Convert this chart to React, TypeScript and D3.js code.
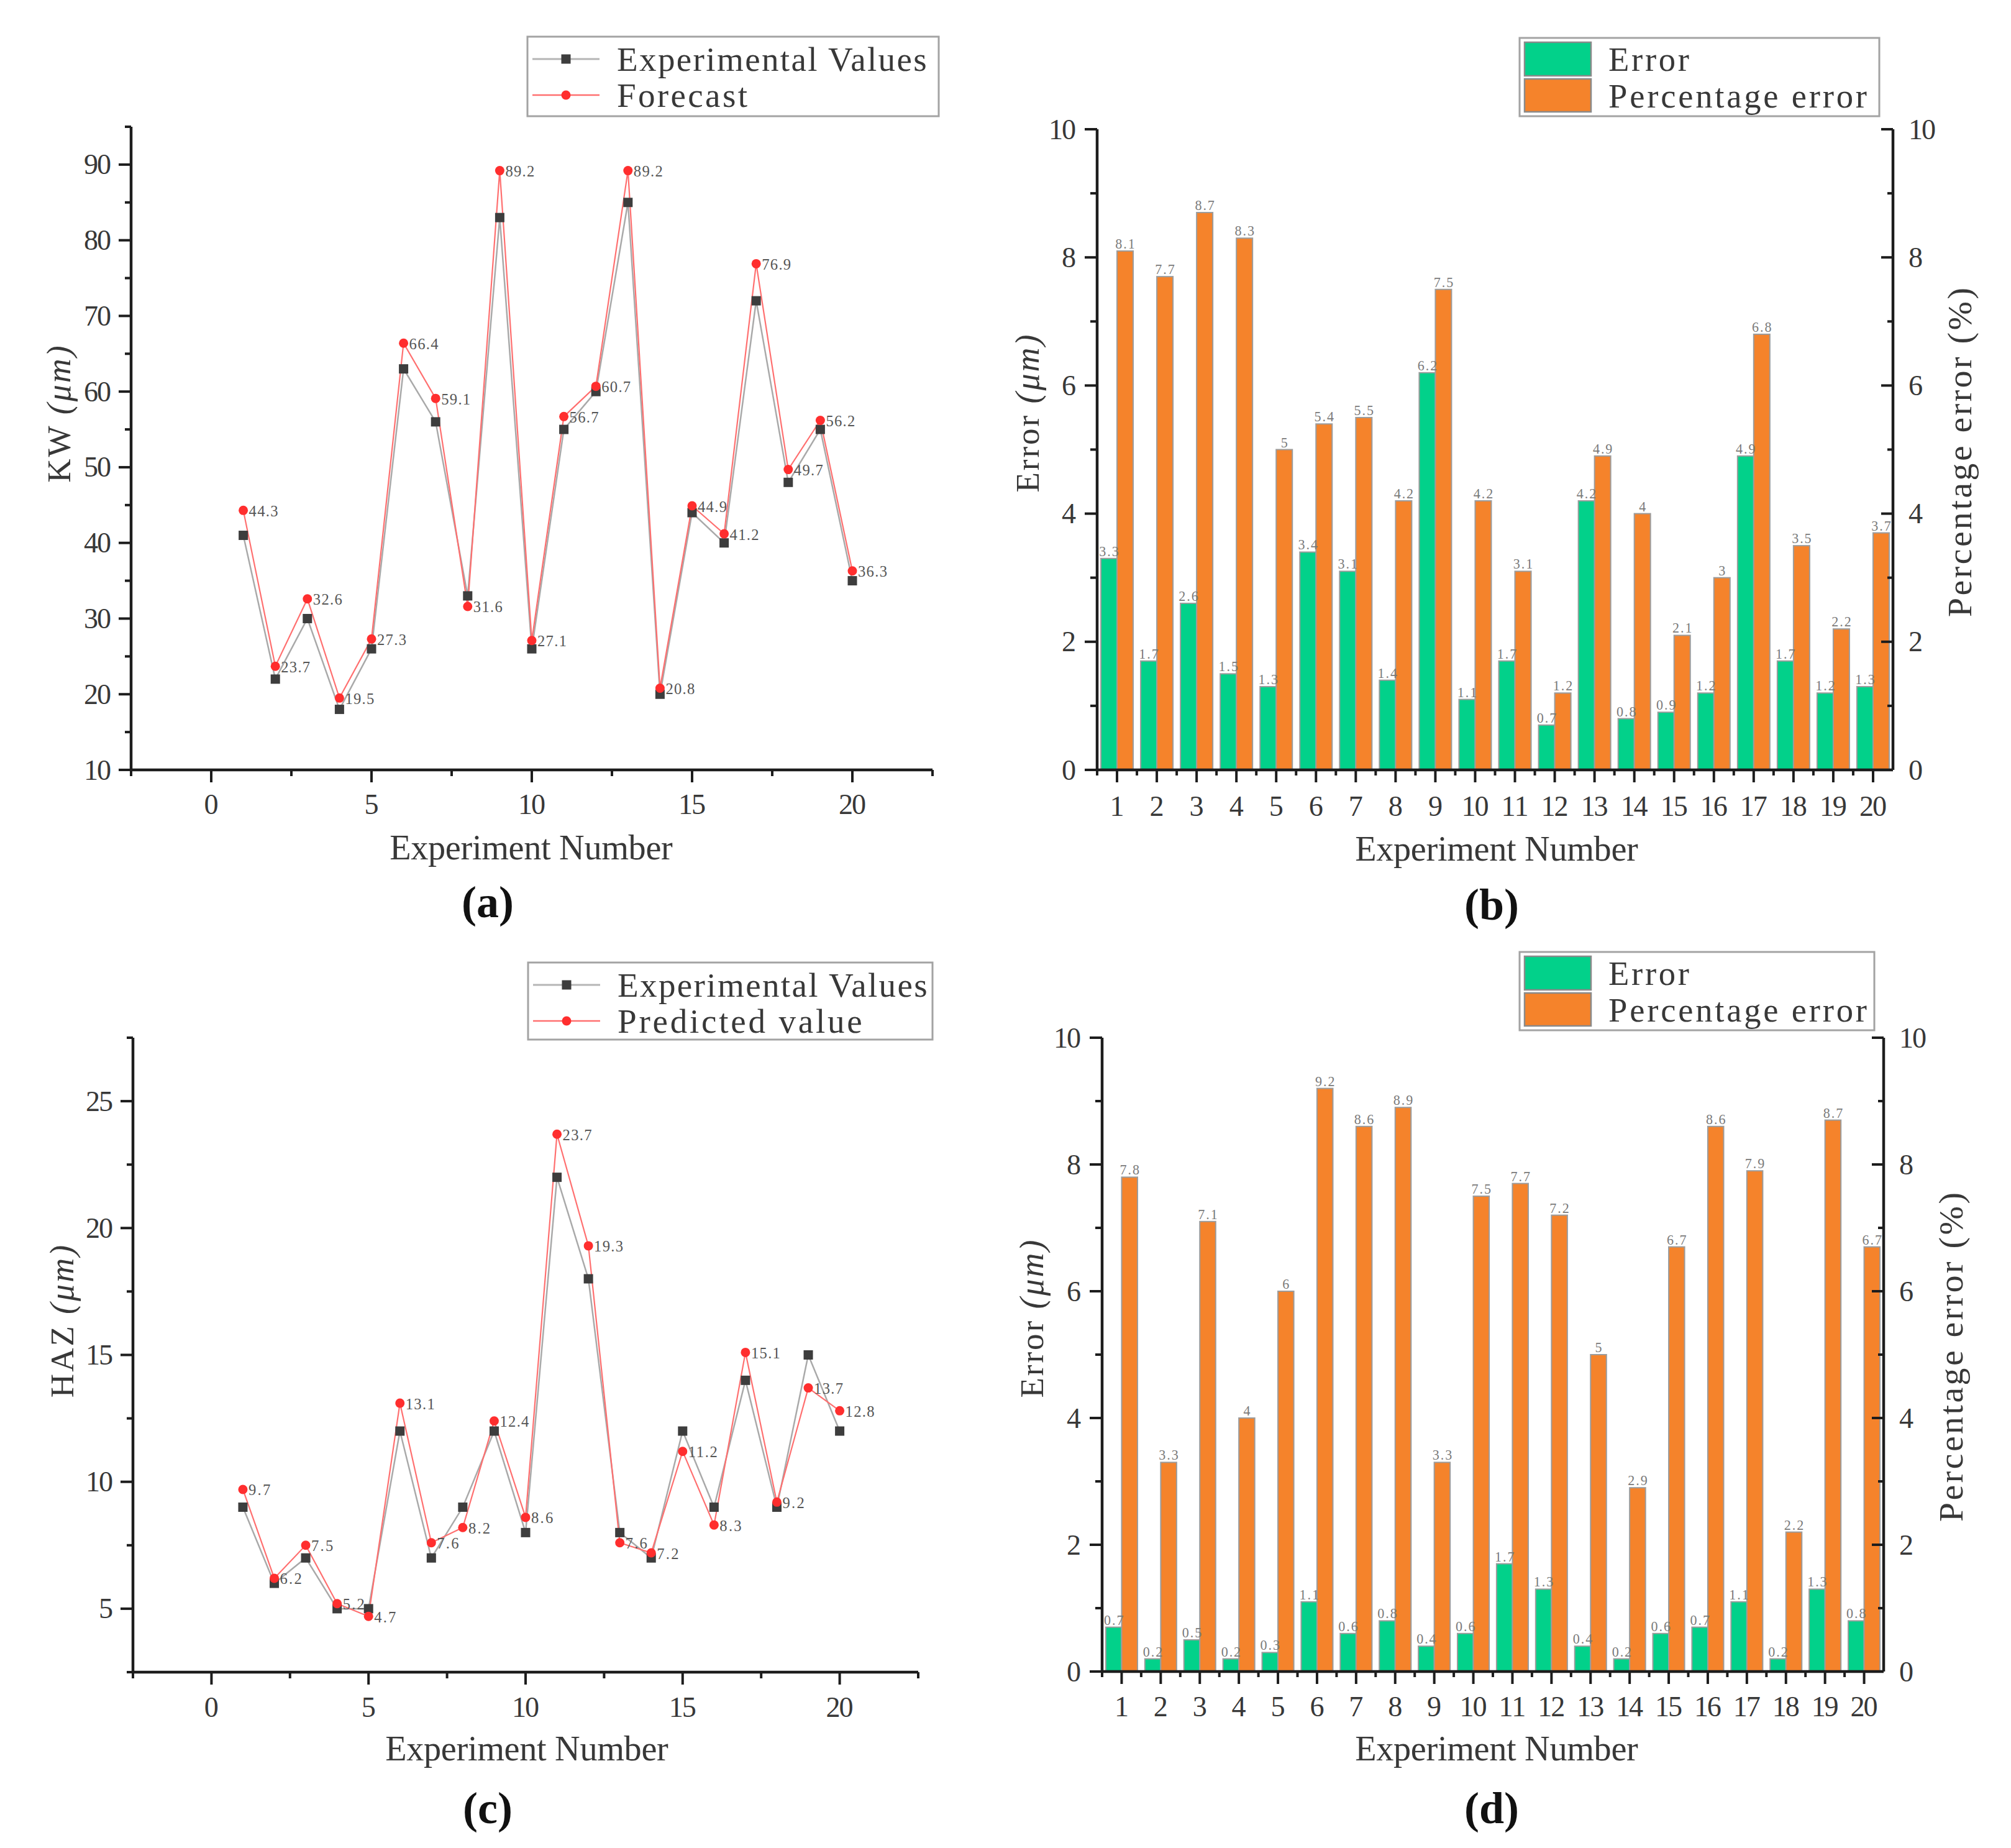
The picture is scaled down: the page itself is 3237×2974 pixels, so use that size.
import * as d3 from "d3";

// ---- data ----
const experiments = [1, 2, 3, 4, 5, 6, 7, 8, 9, 10, 11, 12, 13, 14, 15, 16, 17, 18, 19, 20];

const kwExperimental = [41, 22, 30, 18, 26, 63, 56, 33, 83, 26, 55, 60, 85, 20, 44, 40, 72, 48, 55, 35];
const kwForecast = [44.3, 23.7, 32.6, 19.5, 27.3, 66.4, 59.1, 31.6, 89.2, 27.1, 56.7, 60.7, 89.2, 20.8, 44.9, 41.2, 76.9, 49.7, 56.2, 36.3];

const hazExperimental = [9, 6, 7, 5, 5, 12, 7, 9, 12, 8, 22, 18, 8, 7, 12, 9, 14, 9, 15, 12];
const hazPredicted = [9.7, 6.2, 7.5, 5.2, 4.7, 13.1, 7.6, 8.2, 12.4, 8.6, 23.7, 19.3, 7.6, 7.2, 11.2, 8.3, 15.1, 9.2, 13.7, 12.8];

const kwError = [3.3, 1.7, 2.6, 1.5, 1.3, 3.4, 3.1, 1.4, 6.2, 1.1, 1.7, 0.7, 4.2, 0.8, 0.9, 1.2, 4.9, 1.7, 1.2, 1.3];
const kwPercentError = [8.1, 7.7, 8.7, 8.3, 5, 5.4, 5.5, 4.2, 7.5, 4.2, 3.1, 1.2, 4.9, 4, 2.1, 3, 6.8, 3.5, 2.2, 3.7];

const hazError = [0.7, 0.2, 0.5, 0.2, 0.3, 1.1, 0.6, 0.8, 0.4, 0.6, 1.7, 1.3, 0.4, 0.2, 0.6, 0.7, 1.1, 0.2, 1.3, 0.8];
const hazPercentError = [7.8, 3.3, 7.1, 4, 6, 9.2, 8.6, 8.9, 3.3, 7.5, 7.7, 7.2, 5, 2.9, 6.7, 8.6, 7.9, 2.2, 8.7, 6.7];

const lineXTicks = [0, 5, 10, 15, 20];
const kwYTicks = [10, 20, 30, 40, 50, 60, 70, 80, 90];
const hazYTicks = [5, 10, 15, 20, 25];
const errorTicks = [0, 2, 4, 6, 8, 10];

// ---- style ----
const W = 3237;
const H = 2974;
const FONT_SERIF = "'Liberation Serif', 'DejaVu Serif', serif";
const INK = "#383838";
const AXIS = "#1d1d1d";
const GREEN = "#02d18a";
const ORANGE = "#f5832b";

// SimSun-like text: serif glyphs on a half-width pitch
function Txt({ x, y, s, anchor = "start", rotate = 0, fill = INK, baseline = "central", children }: any) {
  const str = String(children);
  return (
    <text
      transform={`translate(${x},${y}) rotate(${rotate})`}
      fontFamily={FONT_SERIF}
      fontSize={s * 1.05}
      textAnchor={anchor}
      dominantBaseline={baseline}
      fill={fill}
      textLength={str.length * 0.5 * s}
      lengthAdjust="spacing"
    >
      {str}
    </text>
  );
}

function UnitTitle({ x, y, label, unit }: any) {
  return (
    <text
      transform={`translate(${x},${y}) rotate(-90)`}
      fontFamily={FONT_SERIF}
      fontSize={53}
      textAnchor="middle"
      dominantBaseline="central"
      fill={INK}
      letterSpacing={3}
    >
      {label}
      <tspan fontStyle="italic" fontSize={54}>{unit}</tspan>
    </text>
  );
}

function PanelTag({ x, y, tag }: any) {
  return (
    <text x={x} y={y} fontFamily={FONT_SERIF} fontWeight="bold" fontSize={72} textAnchor="middle" dominantBaseline="central" fill="#111">
      {tag}
    </text>
  );
}

interface LinePanelProps {
  left: number; right: number; top: number; bottom: number;
  yDomain: [number, number];
  yTicks: number[];
  yMinor: number[];
  experimental: number[];
  predicted: number[];
  legend: { x: number; y: number; w: number; h: number; labels: string[] };
  yTitle: [number, number, string];
  tickLabelY: number;
  xTitle: [number, number];
  tag: [number, number, string];
}

function LinePanel(p: LinePanelProps) {
  const x = d3.scaleLinear().domain([-2.5, 22.5]).range([p.left, p.right]);
  const y = d3.scaleLinear().domain(p.yDomain).range([p.bottom, p.top]);
  const line = d3.line<number>().x((_, i) => x(experiments[i])).y((d) => y(d));
  const xMinor = d3.range(-2.5, 23, 5);
  const lg = p.legend;
  const rows = [lg.y + 36, lg.y + 94];

  return (
    <g>
      {/* series */}
      <path d={line(p.experimental) ?? ""} fill="none" stroke="#a9a9a9" strokeWidth={2.5} />
      <path d={line(p.predicted) ?? ""} fill="none" stroke="#ff6f6f" strokeWidth={2.2} />
      {p.experimental.map((v, i) => (
        <rect key={`s${i}`} x={x(experiments[i]) - 7.5} y={y(v) - 7.5} width={15} height={15} fill="#3d3d3d" />
      ))}
      {p.predicted.map((v, i) => (
        <circle key={`c${i}`} cx={x(experiments[i])} cy={y(v)} r={7.5} fill="#ff2e2e" />
      ))}
      {p.predicted.map((v, i) => (
        <Txt key={`l${i}`} x={x(experiments[i]) + 9} y={y(v) + 1} s={23.5} fill="#555">{v}</Txt>
      ))}

      {/* axes */}
      <line x1={p.left} x2={p.left} y1={p.bottom} y2={p.top} stroke={AXIS} strokeWidth={4.5} />
      <line x1={p.left} x2={p.right} y1={p.bottom} y2={p.bottom} stroke={AXIS} strokeWidth={4.5} />
      {p.yTicks.map((t) => (
        <g key={`yt${t}`}>
          <line x1={p.left - 20} x2={p.left} y1={y(t)} y2={y(t)} stroke={AXIS} strokeWidth={4} />
          <Txt x={p.left - 32} y={y(t)} s={44} anchor="end">{t}</Txt>
        </g>
      ))}
      {p.yMinor.map((t) => (
        <line key={`ym${t}`} x1={p.left - 10} x2={p.left} y1={y(t)} y2={y(t)} stroke={AXIS} strokeWidth={4} />
      ))}
      {lineXTicks.map((t) => (
        <g key={`xt${t}`}>
          <line x1={x(t)} x2={x(t)} y1={p.bottom} y2={p.bottom + 20} stroke={AXIS} strokeWidth={4} />
          <Txt x={x(t)} y={p.tickLabelY} s={44} anchor="middle">{t}</Txt>
        </g>
      ))}
      {xMinor.map((t) => (
        <line key={`xm${t}`} x1={x(t)} x2={x(t)} y1={p.bottom} y2={p.bottom + 10} stroke={AXIS} strokeWidth={4} />
      ))}

      {/* titles */}
      <UnitTitle x={p.yTitle[0]} y={p.yTitle[1]} label={p.yTitle[2]} unit="(μm)" />
      <Txt x={p.xTitle[0]} y={p.xTitle[1]} s={53.6} anchor="middle">Experiment Number</Txt>
      <PanelTag x={p.tag[0]} y={p.tag[1]} tag={p.tag[2]} />

      {/* legend */}
      <rect x={lg.x} y={lg.y} width={lg.w} height={lg.h} fill="#fff" stroke="#a3a3a3" strokeWidth={3} />
      <line x1={lg.x + 8} x2={lg.x + 116} y1={rows[0]} y2={rows[0]} stroke="#b5b5b5" strokeWidth={3} />
      <rect x={lg.x + 62 - 7.5} y={rows[0] - 7.5} width={15} height={15} fill="#3d3d3d" />
      <line x1={lg.x + 8} x2={lg.x + 116} y1={rows[1]} y2={rows[1]} stroke="#ff6f6f" strokeWidth={2.5} />
      <circle cx={lg.x + 62} cy={rows[1]} r={7.5} fill="#ff2e2e" />
      <Txt x={lg.x + 144} y={rows[0]} s={52.5}>{lg.labels[0]}</Txt>
      <Txt x={lg.x + 144} y={rows[1]} s={52.5}>{lg.labels[1]}</Txt>
    </g>
  );
}

interface BarPanelProps {
  left: number; right: number; top: number; bottom: number;
  error: number[];
  percent: number[];
  legend: { x: number; y: number; w: number; h: number };
  tickLabelY: number;
  leftTitle: [number, number];
  rightTitle: [number, number];
  xTitle: [number, number];
  tag: [number, number, string];
}

function BarPanel(p: BarPanelProps) {
  const x = d3.scaleBand<number>().domain(experiments).range([p.left, p.right]).padding(0);
  const bw = x.bandwidth();
  const inner = d3.scaleBand<string>().domain(["error", "percent"]).range([bw * 0.094, bw * 0.906]).padding(0);
  const y = d3.scaleLinear().domain([0, 10]).range([p.bottom, p.top]);
  const yRight = d3.scaleLinear().domain([0, 10]).range([p.bottom, p.top]);
  const minor = d3.range(1, 10, 2);
  const lg = p.legend;
  const series = [
    { key: "error", values: p.error, color: GREEN, scale: y },
    { key: "percent", values: p.percent, color: ORANGE, scale: yRight },
  ];
  const bars = series.flatMap((s) =>
    s.values.map((v, i) => ({
      key: `${s.key}${i}`,
      v,
      color: s.color,
      bx: (x(experiments[i]) ?? 0) + (inner(s.key) ?? 0),
      top: s.scale(v),
    }))
  );

  return (
    <g>
      {bars.map((b) => (
        <rect key={b.key} x={b.bx} y={b.top} width={inner.bandwidth()} height={p.bottom - b.top} fill={b.color} stroke="#9c9c9c" strokeWidth={2} />
      ))}
      {bars.map((b) => (
        <Txt key={`t${b.key}`} x={b.bx + inner.bandwidth() / 2} y={b.top - 4} s={21} anchor="middle" fill="#7a7a7a" baseline="auto">
          {b.v}
        </Txt>
      ))}

      {/* axes */}
      <line x1={p.left} x2={p.left} y1={p.bottom} y2={p.top} stroke={AXIS} strokeWidth={4.5} />
      <line x1={p.right} x2={p.right} y1={p.bottom} y2={p.top} stroke={AXIS} strokeWidth={4.5} />
      <line x1={p.left} x2={p.right} y1={p.bottom} y2={p.bottom} stroke={AXIS} strokeWidth={4.5} />
      {errorTicks.map((t) => (
        <g key={`t${t}`}>
          <line x1={p.left - 20} x2={p.left} y1={y(t)} y2={y(t)} stroke={AXIS} strokeWidth={4} />
          <Txt x={p.left - 34} y={y(t)} s={44} anchor="end">{t}</Txt>
          <line x1={p.right - 19} x2={p.right} y1={yRight(t)} y2={yRight(t)} stroke={AXIS} strokeWidth={4} />
          <Txt x={p.right + 25} y={yRight(t)} s={44}>{t}</Txt>
        </g>
      ))}
      {minor.map((t) => (
        <g key={`m${t}`}>
          <line x1={p.left - 11} x2={p.left} y1={y(t)} y2={y(t)} stroke={AXIS} strokeWidth={4} />
          <line x1={p.right - 9} x2={p.right} y1={yRight(t)} y2={yRight(t)} stroke={AXIS} strokeWidth={4} />
        </g>
      ))}
      {experiments.map((e) => {
        const cx = (x(e) ?? 0) + bw / 2;
        return (
          <g key={`x${e}`}>
            <line x1={cx} x2={cx} y1={p.bottom} y2={p.bottom + 20} stroke={AXIS} strokeWidth={4} />
            <line x1={x(e) ?? 0} x2={x(e) ?? 0} y1={p.bottom} y2={p.bottom + 9} stroke={AXIS} strokeWidth={4} />
            <Txt x={cx} y={p.tickLabelY} s={44} anchor="middle">{e}</Txt>
          </g>
        );
      })}

      {/* titles */}
      <UnitTitle x={p.leftTitle[0]} y={p.leftTitle[1]} label="Error " unit="(μm)" />
      <Txt x={p.rightTitle[0]} y={p.rightTitle[1]} s={53} anchor="middle" rotate={-90}>Percentage error (%)</Txt>
      <Txt x={p.xTitle[0]} y={p.xTitle[1]} s={53.6} anchor="middle">Experiment Number</Txt>
      <PanelTag x={p.tag[0]} y={p.tag[1]} tag={p.tag[2]} />

      {/* legend */}
      <rect x={lg.x} y={lg.y} width={lg.w} height={lg.h} fill="#fff" stroke="#a3a3a3" strokeWidth={3} />
      <rect x={lg.x + 8} y={lg.y + 7} width={107} height={54} fill={GREEN} stroke="#8a8a8a" strokeWidth={2.5} />
      <rect x={lg.x + 8} y={lg.y + 66} width={107} height={53} fill={ORANGE} stroke="#8a8a8a" strokeWidth={2.5} />
      <Txt x={lg.x + 143} y={lg.y + 34} s={52}>Error</Txt>
      <Txt x={lg.x + 143} y={lg.y + 93} s={52}>Percentage error</Txt>
    </g>
  );
}

export default function App() {
  return (
    <svg width={W} height={H} viewBox={`0 0 ${W} ${H}`} style={{ position: "absolute", left: 0, top: 0, background: "#fff" }}>
      <rect width={W} height={H} fill="#fff" />
      <LinePanel
        left={211} right={1501} top={204} bottom={1239}
        yDomain={[10, 95]}
        yTicks={kwYTicks}
        yMinor={d3.range(15, 96, 10)}
        experimental={kwExperimental}
        predicted={kwForecast}
        legend={{ x: 849, y: 59, w: 662, h: 128, labels: ["Experimental Values", "Forecast"] }}
        yTitle={[95, 665, "KW "]}
        tickLabelY={1294}
        xTitle={[855, 1364]}
        tag={[785, 1452, "(a)"]}
      />
      <BarPanel
        left={1766} right={3047} top={208} bottom={1239}
        error={kwError}
        percent={kwPercentError}
        legend={{ x: 2446, y: 61, w: 579, h: 126 }}
        tickLabelY={1297}
        leftTitle={[1654, 664]}
        rightTitle={[3154, 728]}
        xTitle={[2409, 1366]}
        tag={[2401, 1456, "(b)"]}
      />
      <LinePanel
        left={214} right={1478} top={1670} bottom={2691}
        yDomain={[2.5, 27.5]}
        yTicks={hazYTicks}
        yMinor={d3.range(2.5, 28, 5)}
        experimental={hazExperimental}
        predicted={hazPredicted}
        legend={{ x: 850, y: 1549, w: 651, h: 124, labels: ["Experimental Values", "Predicted value"] }}
        yTitle={[100, 2125, "HAZ "]}
        tickLabelY={2747}
        xTitle={[848, 2814]}
        tag={[785, 2910, "(c)"]}
      />
      <BarPanel
        left={1774} right={3032} top={1670} bottom={2690}
        error={hazError}
        percent={hazPercentError}
        legend={{ x: 2446, y: 1532, w: 571, h: 126 }}
        tickLabelY={2746}
        leftTitle={[1661, 2121]}
        rightTitle={[3140, 2184]}
        xTitle={[2409, 2814]}
        tag={[2401, 2910, "(d)"]}
      />
    </svg>
  );
}
